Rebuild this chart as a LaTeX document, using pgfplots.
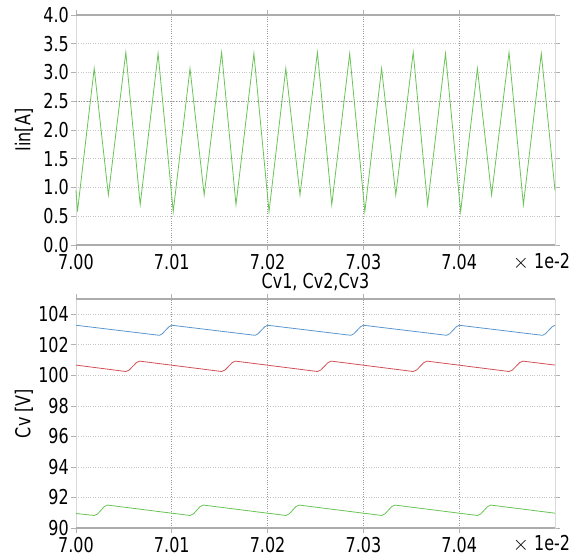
\documentclass[border=0pt]{standalone}
\usepackage{fontspec}
\setmainfont{DejaVu Sans}[FakeStretch=0.78]
\usepackage{pgfplots}
\pgfplotsset{compat=1.18}
\definecolor{cgreen}{RGB}{105,195,85}
\definecolor{cblue}{RGB}{90,150,205}
\definecolor{cred}{RGB}{210,80,85}
\newcommand{\ff}{\fontsize{20.5}{24}\selectfont}
\pgfplotsset{
  mystyle/.style={
    scale only axis, width=479pt, anchor=south west, clip=false,
    xmin=7.00, xmax=7.05,
    xtick={7.00,7.01,7.02,7.03,7.04},
    xticklabels={7.00,7.01,7.02,7.03,7.04},
    /pgf/number format/assume math mode=true,
    tick label style={font=\ff},
    label style={font=\ff},
    title style={font=\ff},
    tick align=outside, major tick length=5pt,
    tick style={gray!60, line width=0.7pt},
    axis line style={gray!30, line width=0.8pt},
    xmajorgrids, ymajorgrids,
    x grid style={dotted, gray!80, line width=0.7pt},
    y grid style={dotted, gray!45, line width=0.7pt},
    xticklabel style={inner sep=2pt, yshift=-2pt},
    yticklabel style={inner sep=2pt},
  }
}
\begin{document}
\begin{tikzpicture}
\useasboundingbox (0,0) rectangle (582pt,559pt);
% ---------- top axis ----------
\begin{axis}[mystyle, at={(76pt,314pt)}, height=230pt,
  ymin=0, ymax=4,
  ytick={0,0.5,1,1.5,2,2.5,3,3.5,4},
  yticklabels={0.0,0.5,1.0,1.5,2.0,2.5,3.0,3.5,4.0},
  ylabel={Iin[A]},
  ylabel style={at={(axis description cs:-0.1086,0.5)}, anchor=center, rotate=0},
  extra y ticks={2.5}, extra y tick labels={},
  extra y tick style={y grid style={dotted, gray!85, line width=0.7pt}},
]
\addplot[cgreen, line width=0.8pt] coordinates {
(7.0000,0.95)
(7.00015,0.58)(7.0019,3.07)(7.00338,0.87)(7.0052,3.35)(7.0067,0.70)(7.00857,3.33)
(7.01015,0.58)(7.0119,3.07)(7.01338,0.87)(7.0152,3.35)(7.0167,0.70)(7.01857,3.33)
(7.02015,0.58)(7.0219,3.07)(7.02338,0.87)(7.0252,3.35)(7.0267,0.70)(7.02857,3.33)
(7.03015,0.58)(7.0319,3.07)(7.03338,0.87)(7.0352,3.35)(7.0367,0.70)(7.03857,3.33)
(7.04015,0.58)(7.0419,3.07)(7.04338,0.87)(7.0452,3.35)(7.0467,0.70)(7.04857,3.33)
(7.0500,0.95)
};
\draw[gray!65, line width=1.2pt] (rel axis cs:0,1) -- (rel axis cs:1,1);
\draw[gray!65, line width=1.2pt] (rel axis cs:0,0) -- (rel axis cs:1,0);
\node[font=\ff, anchor=base] at (rel axis cs:1,0) [xshift=-13.5pt, yshift=-24pt] {$\times$ 1e-2};
\end{axis}
% ---------- bottom axis ----------
\begin{axis}[mystyle, at={(76pt,31pt)}, height=229pt,
  ymin=90, ymax=105,
  ytick={90,92,94,96,98,100,102,104},
  yticklabels={90,92,94,96,98,100,102,104},
  ylabel={Cv [V]},
  ylabel style={at={(axis description cs:-0.1086,0.5)}, anchor=center, rotate=0},
  title={Cv1, Cv2,Cv3},
  title style={at={(axis description cs:0.5,1)}, anchor=base, yshift=4pt},
]
\addplot[cblue, line width=0.8pt] coordinates {
(7.0000,103.28)
(7.0087,102.62)(7.0090,102.72)(7.00935,102.95)(7.0097,103.18)(7.0100,103.28)
(7.0187,102.62)(7.0190,102.72)(7.01935,102.95)(7.0197,103.18)(7.0200,103.28)
(7.0287,102.62)(7.0290,102.72)(7.02935,102.95)(7.0297,103.18)(7.0300,103.28)
(7.0387,102.62)(7.0390,102.72)(7.03935,102.95)(7.0397,103.18)(7.0400,103.28)
(7.0487,102.62)(7.0490,102.72)(7.04935,102.95)(7.0497,103.18)(7.0500,103.28)
};
\addplot[cred, line width=0.8pt] coordinates {
(7.0000,100.67)
(7.0052,100.25)(7.00556,100.35)(7.00593,100.59)(7.0063,100.83)(7.00665,100.93)
(7.0152,100.25)(7.01556,100.35)(7.01593,100.59)(7.0163,100.83)(7.01665,100.93)
(7.0252,100.25)(7.02556,100.35)(7.02593,100.59)(7.0263,100.83)(7.02665,100.93)
(7.0352,100.25)(7.03556,100.35)(7.03593,100.59)(7.0363,100.83)(7.03665,100.93)
(7.0452,100.25)(7.04556,100.35)(7.04593,100.59)(7.0463,100.83)(7.04665,100.93)
(7.0500,100.67)
};
\addplot[cgreen, line width=0.8pt] coordinates {
(7.0000,90.95)
(7.0019,90.82)(7.00225,90.92)(7.0026,91.16)(7.00295,91.40)(7.0033,91.50)
(7.0119,90.82)(7.01225,90.92)(7.0126,91.16)(7.01295,91.40)(7.0133,91.50)
(7.0219,90.82)(7.02225,90.92)(7.0226,91.16)(7.02295,91.40)(7.0233,91.50)
(7.0319,90.82)(7.03225,90.92)(7.0326,91.16)(7.03295,91.40)(7.0333,91.50)
(7.0419,90.82)(7.04225,90.92)(7.0426,91.16)(7.04295,91.40)(7.0433,91.50)
(7.0500,90.97)
};
\draw[gray!65, line width=1.2pt] (rel axis cs:0,1) -- (rel axis cs:1,1);
\draw[gray!65, line width=1.2pt] (rel axis cs:0,0) -- (rel axis cs:1,0);
\node[font=\ff, anchor=base] at (rel axis cs:1,0) [xshift=-13.5pt, yshift=-23pt] {$\times$ 1e-2};
\end{axis}
\end{tikzpicture}
\end{document}
